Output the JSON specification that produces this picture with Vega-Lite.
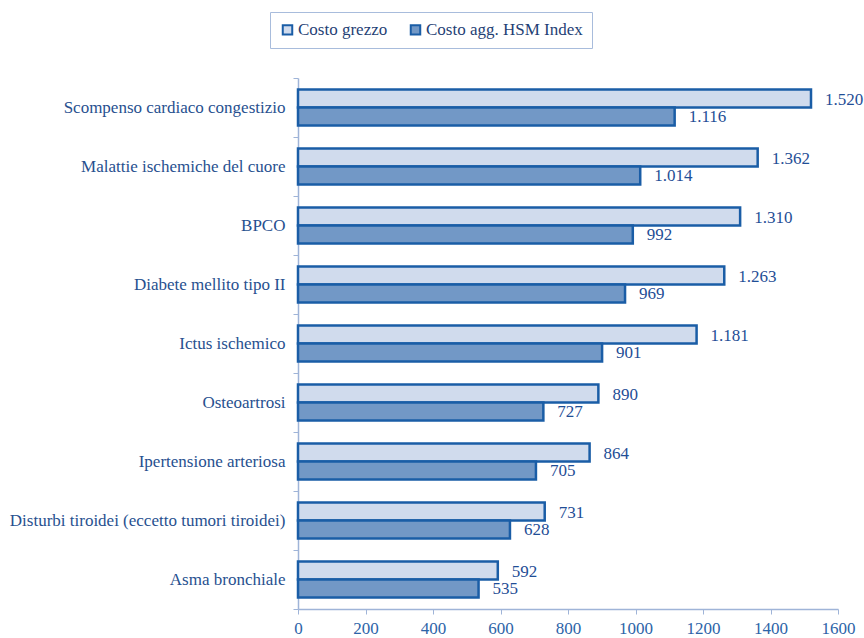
{
  "$schema": "https://vega.github.io/schema/vega-lite/v6.json",
  "autosize": "none",
  "width": 540,
  "height": 531,
  "padding": {"left": 298, "top": 78, "right": 26, "bottom": 29},
  "background": "white",
  "config": {
    "locale": {"number": {"decimal": ",", "thousands": ".", "grouping": [3], "currency": ["", " €"]}},
    "font": "Liberation Serif",
    "view": {"stroke": null}
  },
  "data": {
    "values": [
      {"cat": "Scompenso cardiaco congestizio", "serie": "Costo grezzo", "val": 1520},
      {"cat": "Scompenso cardiaco congestizio", "serie": "Costo agg. HSM Index", "val": 1116},
      {"cat": "Malattie ischemiche del cuore", "serie": "Costo grezzo", "val": 1362},
      {"cat": "Malattie ischemiche del cuore", "serie": "Costo agg. HSM Index", "val": 1014},
      {"cat": "BPCO", "serie": "Costo grezzo", "val": 1310},
      {"cat": "BPCO", "serie": "Costo agg. HSM Index", "val": 992},
      {"cat": "Diabete mellito tipo II", "serie": "Costo grezzo", "val": 1263},
      {"cat": "Diabete mellito tipo II", "serie": "Costo agg. HSM Index", "val": 969},
      {"cat": "Ictus ischemico", "serie": "Costo grezzo", "val": 1181},
      {"cat": "Ictus ischemico", "serie": "Costo agg. HSM Index", "val": 901},
      {"cat": "Osteoartrosi", "serie": "Costo grezzo", "val": 890},
      {"cat": "Osteoartrosi", "serie": "Costo agg. HSM Index", "val": 727},
      {"cat": "Ipertensione arteriosa", "serie": "Costo grezzo", "val": 864},
      {"cat": "Ipertensione arteriosa", "serie": "Costo agg. HSM Index", "val": 705},
      {"cat": "Disturbi tiroidei (eccetto tumori tiroidei)", "serie": "Costo grezzo", "val": 731},
      {"cat": "Disturbi tiroidei (eccetto tumori tiroidei)", "serie": "Costo agg. HSM Index", "val": 628},
      {"cat": "Asma bronchiale", "serie": "Costo grezzo", "val": 592},
      {"cat": "Asma bronchiale", "serie": "Costo agg. HSM Index", "val": 535}
    ]
  },
  "encoding": {
    "y": {
      "field": "cat", "type": "nominal", "sort": null,
      "scale": {"paddingInner": 0, "paddingOuter": 0},
      "axis": {
        "title": null, "tickBand": "extent", "labelFontSize": 17, "labelColor": "#27508f",
        "labelFont": "Liberation Serif", "labelPadding": 8, "tickSize": 5,
        "domainColor": "#9fb4d8", "tickColor": "#9fb4d8", "domainWidth": 1.5, "labelLimit": 400
      }
    },
    "yOffset": {
      "field": "serie", "type": "nominal",
      "sort": ["Costo grezzo", "Costo agg. HSM Index"],
      "scale": {"paddingInner": 0, "paddingOuter": 0.64}
    },
    "x": {
      "field": "val", "type": "quantitative",
      "scale": {"domain": [0, 1600], "nice": false},
      "axis": {
        "title": null, "values": [0, 200, 400, 600, 800, 1000, 1200, 1400, 1600], "format": "d",
        "grid": false, "labelFontSize": 17, "labelColor": "#2d64a8", "labelFont": "Liberation Serif",
        "domainColor": "#9fb4d8", "tickColor": "#9fb4d8", "domainWidth": 1.5, "tickSize": 5,
        "labelPadding": 6, "labelFlush": false
      }
    }
  },
  "layer": [
    {
      "mark": {"type": "bar", "stroke": "#1a5da6", "strokeWidth": 2.5},
      "encoding": {
        "color": {
          "field": "serie", "type": "nominal",
          "scale": {"domain": ["Costo grezzo", "Costo agg. HSM Index"], "range": ["#d0dbed", "#7298c6"]},
          "legend": {
            "title": null, "orient": "none", "direction": "horizontal",
            "legendX": -28, "legendY": -66,
            "symbolType": "square", "symbolSize": 90, "symbolStrokeColor": "#1a5da6", "symbolStrokeWidth": 2,
            "labelFontSize": 17, "labelColor": "#1f3f75", "labelFont": "Liberation Serif", "labelOffset": 2,
            "columnPadding": 18, "padding": 9, "strokeColor": "#a8bcdc", "fillColor": "white",
            "labelLimit": 300
          }
        }
      }
    },
    {
      "mark": {"type": "text", "align": "left", "baseline": "middle", "dx": 14, "dy": 1, "fontSize": 17, "color": "#1f4e96", "font": "Liberation Serif"},
      "encoding": {
        "text": {"field": "val", "type": "quantitative", "format": ",d"}
      }
    }
  ]
}
